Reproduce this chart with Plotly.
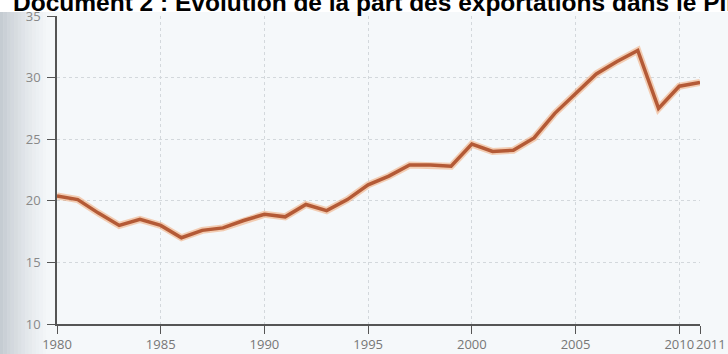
import plotly.graph_objects as go

years = list(range(1980, 2012))
export_share = [20.4, 20.1, 19.0, 18.0, 18.5, 18.0, 17.0, 17.6, 17.8, 18.4,
                18.9, 18.7, 19.7, 19.2, 20.1, 21.3, 22.0, 22.9, 22.9, 22.8,
                24.6, 24.0, 24.1, 25.1, 27.1, 28.7, 30.3, 31.3, 32.2, 27.5,
                29.3, 29.6]
x_ticks = [1980, 1985, 1990, 1995, 2000, 2005, 2010, 2011]
x_ticklabels = ["1980", "1985", "1990", "1995", "2000", "2005", "2010", ""]
last_label = "2011"
y_ticks = [10, 15, 20, 25, 30, 35]
title_text = "Document 2 : Évolution de la part des exportations dans le PIB"

L, R, T, B = 57, 28, 16, 30
W, H = 728, 354
PW, PH = W - L - R, H - T - B

def px_x(px):
    return (px - L) / PW

def px_y(py):
    return 1 - (py - T) / PH

fig = go.Figure()
# soft halo
fig.add_trace(go.Scatter(x=years, y=export_share, mode="lines",
                         line=dict(color="rgba(240,150,90,0.45)", width=7),
                         hoverinfo="skip", showlegend=False, cliponaxis=False))
fig.add_trace(go.Scatter(x=years, y=export_share, mode="lines",
                         line=dict(color="#b45a36", width=3.5),
                         showlegend=False, cliponaxis=False))

shapes = []
# left grey scanner gradient
n = 14
for i in range(n):
    x0 = i * 50 / n
    x1 = (i + 1) * 50 / n
    a = 0.5 * (1 - i / n) ** 1.4
    shapes.append(dict(type="rect", xref="paper", yref="paper",
                       x0=px_x(x0), x1=px_x(x1), y0=px_y(H), y1=px_y(12),
                       fillcolor=f"rgba(150,160,170,{a:.3f})", line=dict(width=0),
                       layer="below"))
# white title band
shapes.append(dict(type="rect", xref="paper", yref="paper",
                   x0=px_x(0), x1=px_x(W), y0=px_y(12), y1=px_y(0),
                   fillcolor="white", line=dict(width=0), layer="below"))
fig.update_layout(shapes=shapes)

fig.add_annotation(text="<b>" + title_text + "</b>", xref="paper", yref="paper",
                   x=px_x(11), y=px_y(18), xanchor="left", yanchor="bottom",
                   showarrow=False, align="left",
                   font=dict(family="Liberation Sans, Arial", size=24.5, color="black"))

# last x label sits just right of its tick, beside "2010"
fig.add_annotation(text=last_label, xref="paper", yref="paper",
                   x=px_x(711), y=px_y(333), xanchor="center", yanchor="top",
                   showarrow=False,
                   font=dict(family="Open Sans", size=13, color="#777"))

fig.update_layout(
    template="none",
    width=W, height=H,
    margin=dict(l=L, r=R, t=T, b=B, autoexpand=False),
    paper_bgcolor="#f5f8fa",
    plot_bgcolor="#f5f8fa",
    xaxis=dict(range=[1980, 2011], tickvals=x_ticks, ticktext=x_ticklabels,
               tickangle=0, automargin=False,
               showline=True, linecolor="#555", linewidth=1.5,
               ticks="outside", ticklen=8, tickcolor="#555", tickwidth=1.2,
               showgrid=True, gridcolor="#d3d8dc", griddash="dot", gridwidth=1,
               zeroline=False,
               tickfont=dict(family="Open Sans", size=13, color="#777")),
    yaxis=dict(range=[10, 35], tickvals=y_ticks, automargin=False,
               showline=True, linecolor="#555", linewidth=1.5,
               ticks="outside", ticklen=8, tickcolor="#555", tickwidth=1.2,
               showgrid=True, gridcolor="#d3d8dc", griddash="dot", gridwidth=1,
               zeroline=False, ticklabelstandoff=4,
               tickfont=dict(family="Open Sans", size=13, color="#888")),
)

fig.write_html("out.html")
